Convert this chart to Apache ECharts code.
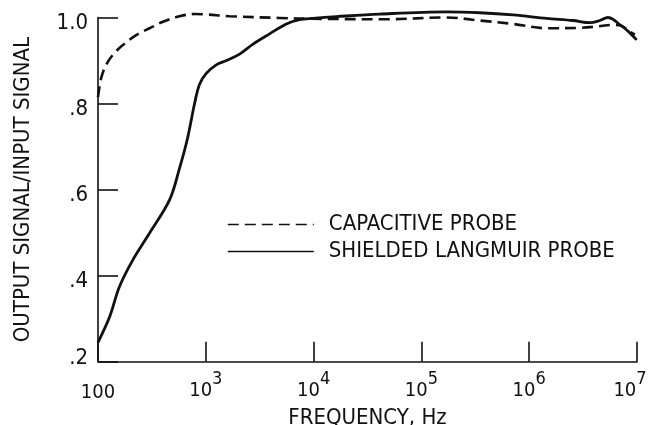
<!DOCTYPE html>
<html>
<head>
<meta charset="utf-8">
<script src="https://cdn.jsdelivr.net/npm/echarts@6/dist/echarts.min.js"></script>
<style>
html,body{margin:0;padding:0;background:#fff;}
#chart{width:650px;height:425px;}
</style>
</head>
<body>
<div id="chart"></div>
<script>
// Frequency (Hz) and output/input ratio
const capFreq = [100, 107, 119, 137, 170, 226, 301, 400, 571, 787, 1010, 1660, 4840, 9800, 47000, 171000, 348000, 710000, 1450000, 2960000, 4230000, 5980000, 6950000, 8610000, 9570000];
const capVals = [0.815, 0.859, 0.890, 0.913, 0.936, 0.959, 0.975, 0.990, 1.003, 1.008, 1.007, 1.003, 0.999, 0.997, 0.996, 1.000, 0.993, 0.985, 0.975, 0.976, 0.979, 0.983, 0.982, 0.967, 0.960];
const langFreq = [100, 128, 158, 210, 301, 461, 571, 678, 787, 875, 1010, 1250, 1550, 2060, 2740, 3910, 5580, 7430, 9860, 16300, 41100, 171000, 348000, 710000, 1450000, 2550000, 3660000, 4530000, 5380000, 5980000, 6950000, 8020000, 9930000];
const langVals = [0.245, 0.304, 0.374, 0.436, 0.499, 0.576, 0.650, 0.720, 0.800, 0.845, 0.870, 0.890, 0.900, 0.915, 0.938, 0.962, 0.985, 0.995, 0.998, 1.002, 1.008, 1.013, 1.011, 1.006, 0.998, 0.993, 0.988, 0.993, 1.000, 0.996, 0.983, 0.971, 0.948];
const seriesNames = ['CAPACITIVE PROBE', 'SHIELDED LANGMUIR PROBE'];
const yTickLabels = {'0.2': '.2', '0.4': '.4', '0.6': '.6', '0.8': '.8', '1.0': '1.0'};
const xTitle = 'FREQUENCY, Hz';
const yTitle = 'OUTPUT SIGNAL/INPUT SIGNAL';

const FONT = "'Liberation Sans Narrow', 'DejaVu Sans Condensed', 'Open Sans', sans-serif";
const INK = '#111';

const chart = echarts.init(document.getElementById('chart'), null, {renderer: 'canvas'});
chart.setOption({
  animation: false,
  backgroundColor: '#fff',
  grid: {left: 98, right: 13, top: 17.5, bottom: 63.3, containLabel: false, outerBoundsMode: 'none'},
  legend: {
    orient: 'vertical', left: 227, top: 211, padding: 0, itemWidth: 86, itemHeight: 14, itemGap: 0,
    data: seriesNames,
    textStyle: {fontFamily: FONT, fontSize: 22, color: INK, lineHeight: 27, padding: [0, 0, 0, 10]},
    itemStyle: {opacity: 0},
    lineStyle: {width: 1.6},
    selectedMode: false
  },
  xAxis: {
    type: 'log', logBase: 10, min: 100, max: 10000000, splitNumber: 5,
    name: xTitle, nameLocation: 'middle', nameGap: 37,
    nameTextStyle: {fontFamily: FONT, fontSize: 22, color: INK},
    axisLine: {lineStyle: {color: INK, width: 1.6}},
    axisTick: {inside: true, length: 20, lineStyle: {color: INK, width: 1.6}},
    minorTick: {show: false},
    splitLine: {show: false},
    axisLabel: {
      margin: 9, color: INK, fontFamily: FONT,
      formatter: function (v) {
        const e = Math.round(Math.log10(v));
        if (e === 2) return '{p|100}';
        if (e === 7) return '{b|10}{t|' + e + '}';
        return '{b|10}{s|' + e + '}';
      },
      rich: {
        p: {fontFamily: FONT, fontSize: 20, color: INK, padding: [12, 0, 0, 0], verticalAlign: 'bottom'},
        b: {fontFamily: FONT, fontSize: 20, color: INK, verticalAlign: 'bottom'},
        s: {fontFamily: FONT, fontSize: 18, color: INK, verticalAlign: 'bottom', padding: [0, 0, 12, 0]},
        t: {fontFamily: FONT, fontSize: 18, color: INK, verticalAlign: 'bottom', padding: [0, 14, 12, 0]}
      }
    }
  },
  yAxis: {
    type: 'value', min: 0.2, max: 1.0, interval: 0.2,
    name: yTitle, nameLocation: 'middle', nameGap: 64,
    nameTextStyle: {fontFamily: FONT, fontSize: 22, color: INK},
    axisLine: {show: true, lineStyle: {color: INK, width: 1.6}},
    axisTick: {show: true, inside: true, length: 20, lineStyle: {color: INK, width: 1.6}},
    splitLine: {show: false},
    axisLabel: {
      margin: 10, color: INK, fontFamily: FONT, fontSize: 22,
      formatter: function (v) {
        const k = v.toFixed(1);
        const t = yTickLabels[k] || '';
        return k === '0.2' ? '{u|' + t + '}' : '{d|' + t + '}';
      },
      rich: {
        d: {fontFamily: FONT, fontSize: 22, color: INK, padding: [12, 0, 0, 0]},
        u: {fontFamily: FONT, fontSize: 22, color: INK, padding: [0, 0, 6, 0]}
      }
    }
  },
  series: [
    {
      name: seriesNames[0], type: 'line', smooth: 0.35, symbol: 'none', clip: false,
      data: capFreq.map((f, i) => [f, capVals[i]]),
      lineStyle: {color: INK, width: 2.6, type: [11, 6]},
      itemStyle: {color: INK}
    },
    {
      name: seriesNames[1], type: 'line', smooth: 0.35, symbol: 'none', clip: false,
      data: langFreq.map((f, i) => [f, langVals[i]]),
      lineStyle: {color: INK, width: 2.8, type: 'solid'},
      itemStyle: {color: INK}
    }
  ]
});
</script>
</body>
</html>
